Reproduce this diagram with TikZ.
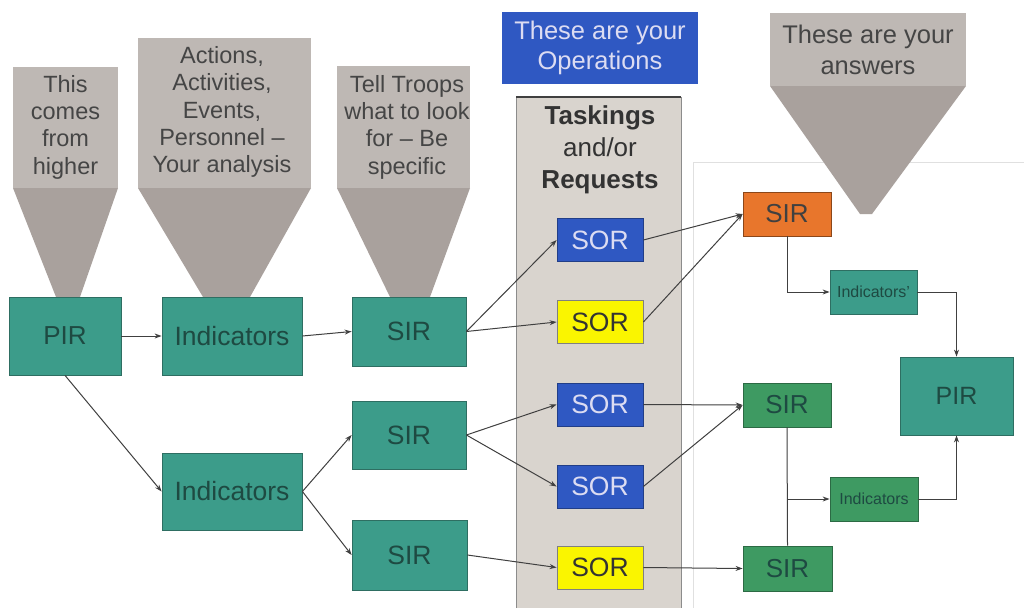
\documentclass[tikz,border=0pt]{standalone}
\usepackage{fontspec}
\setmainfont{Liberation Sans}
\usetikzlibrary{arrows.meta}
\definecolor{tealc}{HTML}{3C9C8A}
\definecolor{tealdk}{HTML}{2E6E62}
\definecolor{tealtx}{HTML}{1E4A42}
\definecolor{greenc}{HTML}{3E9A62}
\definecolor{greendk}{HTML}{2C6A44}
\definecolor{orangec}{HTML}{E8762C}
\definecolor{bluec}{HTML}{2F58C2}
\definecolor{bluetx}{HTML}{DCDCF2}
\definecolor{yellowc}{HTML}{FAF500}
\definecolor{calltop}{HTML}{BEB8B4}
\definecolor{callbot}{HTML}{A9A19D}
\definecolor{calltx}{HTML}{454545}
\definecolor{panelc}{HTML}{D9D4CE}
\definecolor{arrowc}{HTML}{404040}
\begin{document}
\begin{tikzpicture}[x=1pt,y=-1pt,
  tealbox/.style={rectangle, fill=tealc, draw=tealdk, line width=0.8pt, text=tealtx, inner sep=0pt},
  greenbox/.style={rectangle, fill=greenc, draw=greendk, line width=0.8pt, text=tealtx, inner sep=0pt},
  sorblue/.style={rectangle, fill=bluec, draw=bluec!70!black, line width=0.8pt, text=bluetx, inner sep=0pt, minimum width=86pt, minimum height=43pt, font=\fontsize{26.5}{28}\selectfont},
  soryellow/.style={rectangle, fill=yellowc, draw=black!50, line width=0.8pt, text=black!80, inner sep=0pt, minimum width=86pt, minimum height=43pt, font=\fontsize{26.5}{28}\selectfont},
  calltext/.style={text=calltx, align=center, font=\fontsize{23.5}{27.3}\selectfont, inner sep=0pt},
  conn/.style={draw=arrowc, line width=1pt, -{Stealth[length=7pt,width=5pt]}},
  plain/.style={draw=arrowc, line width=1pt}
]
\useasboundingbox (0,0) rectangle (1024,608);
\fill[white] (0,0) rectangle (1024,608);

% faint frame
\draw[black!12, line width=1pt] (1024,162) -- (693,162) -- (693,608);

% callouts
\fill[calltop] (13,67) rectangle (118,188);
\fill[callbot] (13,188) -- (118,188) -- (80,297) -- (56,297) -- cycle;
\node[calltext] (c1) at (65.5,127) {This\\comes\\from\\higher};

\fill[calltop] (138,38) rectangle (311,188);
\fill[callbot] (138,188) -- (311,188) -- (250,297) -- (203,297) -- cycle;
\node[calltext] (c2) at (222,112) {Actions,\\Activities,\\Events,\\Personnel –\\Your analysis};

\fill[calltop] (337,66) rectangle (470,188);
\fill[callbot] (337,188) -- (470,188) -- (430,297) -- (390,297) -- cycle;
\node[calltext] (c3) at (407,127) {Tell Troops\\what to look\\for – Be\\specific};

\fill[calltop] (770,13) rectangle (966,86);
\fill[callbot] (770,86) -- (966,86) -- (872,214) -- (860,214) -- cycle;
\node[calltext, font=\fontsize{25.5}{31}\selectfont] (c4) at (868,50) {These are your\\answers};

% operations label
\node[rectangle, fill=bluec, text=bluetx, align=center, inner sep=0pt, minimum width=196pt, minimum height=72pt, font=\fontsize{25.5}{30}\selectfont] (ops) at (600,48) {These are your\\Operations};

% taskings panel
\fill[panelc] (516,97) rectangle (681,608);
\draw[black!45, line width=0.8pt] (516,608) -- (516,97) -- (681,97) -- (681,608);
\draw[black!75, line width=1.2pt] (516,97) -- (681,97);
\node[text=black!80, align=center, inner sep=0pt, font=\fontsize{26}{32}\selectfont] (task) at (600,150) {\textbf{Taskings}\\and/or\\\textbf{Requests}};

% left column
\node[tealbox, minimum width=112pt, minimum height=78pt, font=\fontsize{26}{28}\selectfont] (pir) at (65,336) {PIR};
\node[tealbox, minimum width=140pt, minimum height=78pt, font=\fontsize{26.5}{28}\selectfont] (ind1) at (232,336) {Indicators};
\node[tealbox, minimum width=140pt, minimum height=77pt, font=\fontsize{26.5}{28}\selectfont] (ind2) at (232,491.5) {Indicators};
\node[tealbox, minimum width=114pt, minimum height=69pt, font=\fontsize{26.5}{28}\selectfont] (sir1) at (409,331.5) {SIR};
\node[tealbox, minimum width=114pt, minimum height=68pt, font=\fontsize{26.5}{28}\selectfont] (sir2) at (409,435) {SIR};
\node[tealbox, minimum width=115pt, minimum height=70pt, font=\fontsize{26.5}{28}\selectfont] (sir3) at (409.5,555) {SIR};

% SOR column
\node[sorblue] (sor1) at (600,240) {SOR};
\node[soryellow] (sor2) at (600,322) {SOR};
\node[sorblue] (sor3) at (600,404.5) {SOR};
\node[sorblue] (sor4) at (600,486.5) {SOR};
\node[soryellow] (sor5) at (600,567.5) {SOR};

% right side
\node[rectangle, fill=orangec, draw=orangec!60!black, line width=0.8pt, text=black!75, inner sep=0pt, minimum width=88pt, minimum height=44pt, font=\fontsize{26}{28}\selectfont] (sirO) at (787,214) {SIR};
\node[tealbox, minimum width=87pt, minimum height=44pt, font=\fontsize{16}{18}\selectfont] (indA) at (873.5,292) {Indicators'};
\node[tealbox, minimum width=113pt, minimum height=78pt, font=\fontsize{25}{27}\selectfont] (pirR) at (956.5,396) {PIR};
\node[greenbox, minimum width=88pt, minimum height=44pt, font=\fontsize{26}{28}\selectfont] (sirG1) at (787,405) {SIR};
\node[greenbox, minimum width=88pt, minimum height=44pt, font=\fontsize{16}{18}\selectfont] (indB) at (874,499) {Indicators};
\node[greenbox, minimum width=89pt, minimum height=45pt, font=\fontsize{26}{28}\selectfont] (sirG2) at (787.5,568.5) {SIR};

% connectors
\draw[conn] (pir.south) -- (ind2.west);
\draw[conn] (pir.east) -- (ind1.west);
\draw[conn] (ind1.east) -- (sir1.west);
\draw[conn] (sir1.east) -- (sor1.west);
\draw[conn] (sir1.east) -- (sor2.west);
\draw[conn] (ind2.east) -- (sir2.west);
\draw[conn] (ind2.east) -- (sir3.west);
\draw[conn] (sir2.east) -- (sor3.west);
\draw[conn] (sir2.east) -- (sor4.west);
\draw[conn] (sir3.east) -- (sor5.west);
\draw[conn] (sor1.east) -- (sirO.west);
\draw[conn] (sor2.east) -- (sirO.west);
\draw[conn] (sor3.east) -- (sirG1.west);
\draw[conn] (sor4.east) -- (sirG1.west);
\draw[conn] (sor5.east) -- (sirG2.west);
\draw[conn] (sirO.south) |- (indA.west);
\draw[conn] (indA.east) -| (pirR.north);
\draw[plain] (sirG1.south) -- (sirG2.north);
\coordinate (mid) at (787,499);
\draw[conn] (mid) -- (indB.west);
\draw[conn] (indB.east) -| (pirR.south);
\end{tikzpicture}
\end{document}
